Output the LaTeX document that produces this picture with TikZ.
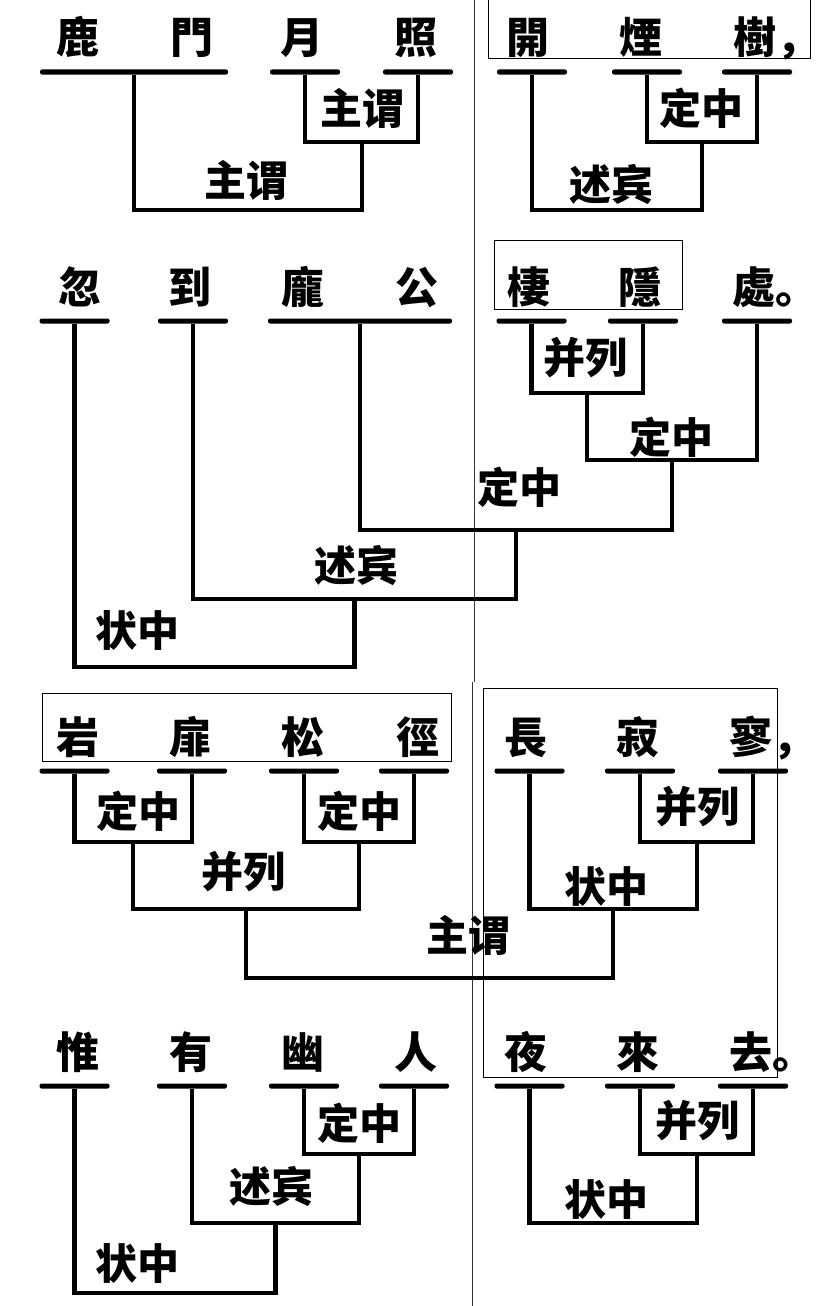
\documentclass[tikz,border=0pt]{standalone}
\usepackage{fontspec}
\usepackage{tikz}
\usetikzlibrary{positioning, calc}
\newfontfamily\cjk{Noto Sans CJK SC}
\tikzset{
  word/.style={anchor=base,inner sep=0pt,font=\cjk\bfseries\fontsize{43}{43}\selectfont},
  rel/.style={inner sep=0pt,font=\cjk\bfseries\fontsize{42}{42}\selectfont},
  wordbar/.style={rectangle,fill=black,inner sep=0pt,minimum height=5pt,minimum width=70pt,rounded corners=2pt},
  branch/.style={line width=4.3pt,black},
  hilite/.style={draw=black,line width=1pt},
  divider/.style={draw=black!80,line width=1pt},
}

\begin{document}
\begin{tikzpicture}[x=1pt,y=-1pt]
	    \useasboundingbox (0,0) rectangle (827,1306);
	    \fill[white] (0,0) rectangle (827,1306);
	    \draw[divider] (474,0) -- (474,682);
	    \draw[divider] (472,682) -- (472,1306);
	    \draw[hilite] (488,-5) rectangle (810,59);
	    \draw[hilite] (494,240) rectangle (682,309);
	    \draw[hilite] (42,693) rectangle (451,761);
	    \draw[hilite] (483,688) rectangle (777,1077);

	    \node[word] (w-lu) at (78,54) {鹿};
	    \node[word] (w-men) at (192,54) {門};
	    \node[word] (w-yue) at (302,54) {月};
	    \node[word] (w-zhao) at (416,54) {照};
	    \node[word] (w-kai) at (528,54) {開};
	    \node[word] (w-yan) at (641,54) {煙};
	    \node[word] (w-shu) at (755,54) {樹\rlap{，}};
	    \node[wordbar,minimum width=188pt] (b-lumen) at (134,72) {};
	    \node[wordbar] (b-yue) at (305,72) {};
	    \node[wordbar] (b-zhao) at (418,72) {};
	    \node[wordbar] (b-kai) at (532,72) {};
	    \node[wordbar] (b-yan) at (647,72) {};
	    \node[wordbar] (b-shu) at (757,72) {};
	    \coordinate (j-yuezhao) at (362,142);
	    \coordinate (j-lumen) at (248,210);
	    \coordinate (j-yanshu) at (702,142);
	    \coordinate (j-kai) at (617,210);
	    \draw[branch] (b-yue.south) |- (j-yuezhao) -| (b-zhao.south);
	    \draw[branch] (b-lumen.south) |- (j-lumen) -| (j-yuezhao);
	    \draw[branch] (b-yan.south) |- (j-yanshu) -| (b-shu.south);
	    \draw[branch] (b-kai.south) |- (j-kai) -| (j-yanshu);
	    \node[rel] (r-yuezhao) at (362,108) {主谓};
	    \node[rel] (r-lumen) at (246,180) {主谓};
	    \node[rel] (r-yanshu) at (701,108) {定中};
	    \node[rel] (r-kai) at (611,185) {述宾};

	    \node[word] (w-hu) at (80,303) {忽};
	    \node[word] (w-dao) at (190,303) {到};
	    \node[word] (w-pang) at (303,303) {龐};
	    \node[word] (w-gong) at (417,303) {公};
	    \node[word] (w-qi) at (529,303) {棲};
	    \node[word] (w-yin) at (640,303) {隱};
	    \node[word] (w-chu) at (754,303) {處\rlap{。}};
	    \node[wordbar] (b-hu) at (74.5,321) {};
	    \node[wordbar] (b-dao) at (193,321) {};
	    \node[wordbar,minimum width=184pt] (b-panggong) at (360,321) {};
	    \node[wordbar] (b-qi) at (531.5,321) {};
	    \node[wordbar] (b-yin) at (643,321) {};
	    \node[wordbar] (b-chu) at (757,321) {};
	    \coordinate (j-qiyin) at (587,393);
	    \coordinate (j-chu) at (672,460);
	    \coordinate (j-panggong) at (516,530);
	    \coordinate (j-dao) at (354.5,599);
	    \coordinate (j-hu) at (214.5,667);
	    \draw[branch] (b-qi.south) |- (j-qiyin) -| (b-yin.south);
	    \draw[branch] (j-qiyin) |- (j-chu) -| (b-chu.south);
	    \draw[branch] (b-panggong.south) |- (j-panggong) -| (j-chu);
	    \draw[branch] (b-dao.south) |- (j-dao) -| (j-panggong);
	    \draw[branch] (b-hu.south) |- (j-hu) -| (j-dao);
	    \node[rel] (r-qiyin) at (585,358) {并列};
	    \node[rel] (r-chu) at (671,437) {定中};
	    \node[rel] (r-panggong) at (519,487) {定中};
	    \node[rel] (r-dao) at (356,566) {述宾};
	    \node[rel] (r-hu) at (137,630) {状中};

	    \node[word] (w-yan2) at (78,753) {岩};
	    \node[word] (w-fei) at (191,753) {扉};
	    \node[word] (w-song) at (303,753) {松};
	    \node[word] (w-jing) at (418,753) {徑};
	    \node[word] (w-chang) at (526,753) {長};
	    \node[word] (w-ji) at (638,753) {寂};
	    \node[word] (w-liao) at (751,753) {寥\rlap{，}};
	    \node[wordbar] (b-yan2) at (74.5,771) {};
	    \node[wordbar] (b-fei) at (192,771) {};
	    \node[wordbar] (b-song) at (304,771) {};
	    \node[wordbar] (b-jing) at (414,771) {};
	    \node[wordbar] (b-chang) at (529.5,771) {};
	    \node[wordbar] (b-ji) at (640,771) {};
	    \node[wordbar] (b-liao) at (753,771) {};
	    \coordinate (j-yanfei) at (133,842);
	    \coordinate (j-songjing) at (359,842);
	    \coordinate (j-jiliao) at (697,842);
	    \coordinate (j-yansong) at (246,909);
	    \coordinate (j-chang) at (613,909);
	    \coordinate (j-all3) at (429.5,978);
	    \draw[branch] (b-yan2.south) |- (j-yanfei) -| (b-fei.south);
	    \draw[branch] (b-song.south) |- (j-songjing) -| (b-jing.south);
	    \draw[branch] (j-yanfei) |- (j-yansong) -| (j-songjing);
	    \draw[branch] (b-ji.south) |- (j-jiliao) -| (b-liao.south);
	    \draw[branch] (b-chang.south) |- (j-chang) -| (j-jiliao);
	    \draw[branch] (j-yansong) |- (j-all3) -| (j-chang);
	    \node[rel] (r-yanfei) at (138,811) {定中};
	    \node[rel] (r-songjing) at (359,811) {定中};
	    \node[rel] (r-yansong) at (243,872) {并列};
	    \node[rel] (r-jiliao) at (697,807) {并列};
	    \node[rel] (r-chang) at (606,886) {状中};
	    \node[rel] (r-all3) at (468,935) {主谓};

	    \node[word] (w-wei) at (78,1068) {惟};
	    \node[word] (w-you) at (191,1068) {有};
	    \node[word] (w-you2) at (303,1068) {幽};
	    \node[word] (w-ren) at (416,1068) {人};
	    \node[word] (w-ye) at (526,1068) {夜};
	    \node[word] (w-lai) at (638,1068) {來};
	    \node[word] (w-qu) at (751,1068) {去\rlap{。}};
	    \node[wordbar] (b-wei) at (74.5,1086) {};
	    \node[wordbar] (b-you) at (192,1086) {};
	    \node[wordbar] (b-you2) at (304,1086) {};
	    \node[wordbar] (b-ren) at (414,1086) {};
	    \node[wordbar] (b-ye) at (529.5,1086) {};
	    \node[wordbar] (b-lai) at (640,1086) {};
	    \node[wordbar] (b-qu) at (753,1086) {};
	    \coordinate (j-youren) at (359,1154);
	    \coordinate (j-you) at (275.5,1223);
	    \coordinate (j-wei) at (174,1293);
	    \coordinate (j-laiqu) at (697,1154);
	    \coordinate (j-ye) at (613,1223);
	    \draw[branch] (b-you2.south) |- (j-youren) -| (b-ren.south);
	    \draw[branch] (b-you.south) |- (j-you) -| (j-youren);
	    \draw[branch] (b-wei.south) |- (j-wei) -| (j-you);
	    \draw[branch] (b-lai.south) |- (j-laiqu) -| (b-qu.south);
	    \draw[branch] (b-ye.south) |- (j-ye) -| (j-laiqu);
	    \node[rel] (r-youren) at (359,1123) {定中};
	    \node[rel] (r-you) at (271,1187) {述宾};
	    \node[rel] (r-wei) at (137,1263) {状中};
	    \node[rel] (r-laiqu) at (697,1121) {并列};
	    \node[rel] (r-ye) at (606,1199) {状中};
	\end{tikzpicture}
\end{document}
